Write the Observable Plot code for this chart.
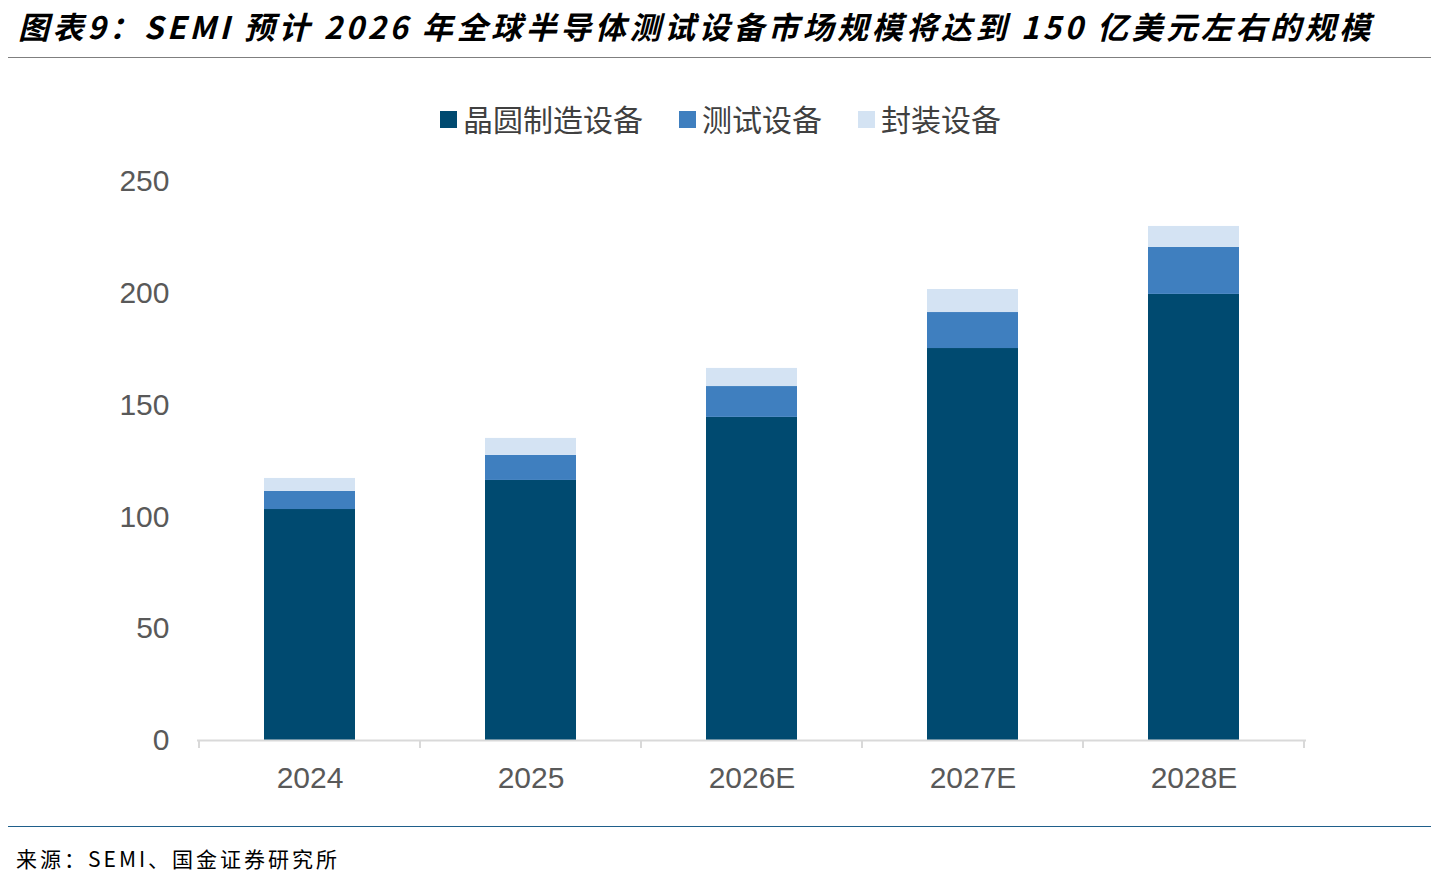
<!DOCTYPE html>
<html><head><meta charset="utf-8">
<script src="https://cdn.jsdelivr.net/npm/d3@7"></script>
<script src="https://cdn.jsdelivr.net/npm/@observablehq/plot@0.6"></script>
<style>
body{margin:0;width:1431px;height:879px;background:#fff;font-family:"Noto Sans CJK SC",sans-serif;position:relative;overflow:hidden}
#title{position:absolute;left:18px;top:3px;font-size:31px;font-weight:bold;font-style:italic;color:#000;letter-spacing:3.6px;white-space:nowrap}
#l1{position:absolute;left:8px;right:0;top:57px;border-top:1px solid #7f7f7f}
#legend{position:absolute;top:96px;left:0;width:1431px;display:flex;justify-content:center;gap:36px;font-size:30px;color:#404040;padding-left:10px;box-sizing:border-box}
#legend span.sw{display:inline-block;width:17px;height:17px;margin-right:6px;vertical-align:middle;position:relative;top:-3px}
#chart{position:absolute;top:150px;left:0}
#l2{position:absolute;left:8px;right:0;top:826px;border-top:1px solid #1f5f8b}
#src{position:absolute;left:16px;top:843px;font-size:21px;color:#000;letter-spacing:3px}
</style></head><body>
<div id="title">图表9：SEMI 预计 2026 年全球半导体测试设备市场规模将达到 150 亿美元左右的规模</div>
<div id="l1"></div>
<div id="legend"></div>
<div id="chart"></div>
<div id="l2"></div>
<div id="src">来源：SEMI、国金证券研究所</div>
<script>
const years = ["2024","2025","2026E","2027E","2028E"];
const series = ["晶圆制造设备","测试设备","封装设备"];
const wafer = [103.3,116.3,144.5,175.3,199.5];
const test = [8.1,11.2,13.8,16.1,21.0];
const pack = [5.8,7.6,8.1,10.3,9.4];
const colors = ["#004a70","#3f7fbf","#d4e3f3"];
const yTicks = [0,50,100,150,200,250];

const data = [];
years.forEach((y,i)=>{
  data.push({year:y,s:series[0],v:wafer[i]});
  data.push({year:y,s:series[1],v:test[i]});
  data.push({year:y,s:series[2],v:pack[i]});
});
const lg=document.getElementById("legend");
series.forEach((s,i)=>{const d=document.createElement("div");d.innerHTML=`<span class="sw" style="background:${colors[i]}"></span>${s}`;lg.appendChild(d);});

const plot = Plot.plot({
  width:1431,height:660,
  marginLeft:197,marginRight:125,marginTop:31,marginBottom:70,
  style:{fontFamily:"Liberation Sans, Arial, sans-serif",fontSize:"30px",color:"#595959",background:"transparent"},
  x:{domain:years,paddingInner:0.59,paddingOuter:0.295,label:null,tickSize:0,tickPadding:26},
  y:{domain:[0,250],ticks:yTicks,label:null,tickSize:0,tickPadding:28},
  color:{domain:series,range:colors},
  marks:[
    Plot.barY(data,Plot.stackY({x:"year",y:"v",fill:"s",order:series})),
    Plot.ruleY([0],{stroke:"#d9d9d9",strokeWidth:2})
  ]
});
document.getElementById("chart").appendChild(plot);
const xs=plot.scale("x");
const svg=d3.select(plot);
const y0=plot.scale("y").apply(0);
const step=xs.step;
for(let k=0;k<=years.length;k++){
  const x=xs.apply(years[0])+xs.bandwidth/2-step/2+k*step;
  svg.append("line").attr("x1",x).attr("x2",x).attr("y1",y0).attr("y2",y0+8).attr("stroke","#d9d9d9").attr("stroke-width",2);
}
</script>
</body></html>
